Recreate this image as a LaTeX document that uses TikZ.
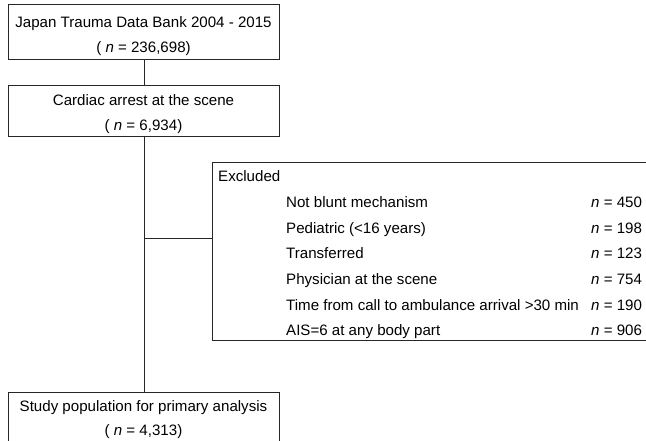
\documentclass[tikz,border=0pt]{standalone}
\usepackage{fontspec}
\setmainfont{Liberation Sans}
\begin{document}
\begin{tikzpicture}[x=1pt,y=-1pt,
  box/.style={draw=black!85,line width=0.9pt,inner sep=0pt,anchor=north west},
  txt/.style={anchor=base,inner sep=0pt,font=\fontsize{15.1}{17}\selectfont},
  txtl/.style={anchor=base west,inner sep=0pt,font=\fontsize{15.1}{17}\selectfont},
  link/.style={draw=black!85,line width=0.9pt}]
\clip (0,0) rectangle (646,440);
\node[box,minimum width=271pt,minimum height=55pt] (b1) at (8,4) {};
\node[box,minimum width=271pt,minimum height=51pt] (b2) at (8,85) {};
\node[box,minimum width=271pt,minimum height=70pt] (b3) at (8,392) {};
\node[box,minimum width=460pt,minimum height=178pt] (ex) at (212,162) {};
\node[txt] (t1a) at (143.5,27.5) {Japan Trauma Data Bank 2004 - 2015};
\node[txt] (t1b) at (143.5,52.5) {( \textit{n} = 236,698)};
\node[txt] (t2a) at (143.5,105.5) {Cardiac arrest at the scene};
\node[txt] (t2b) at (143.5,130.5) {( \textit{n} = 6,934)};
\node[txt] (t3a) at (143.5,411.5) {Study population for primary analysis};
\node[txt] (t3b) at (143.5,435.5) {( \textit{n} = 4,313)};
\node[txtl] (e0) at (218,181.5) {Excluded};
\node[txtl] (e1) at (286,207.5) {Not blunt mechanism};
\node[txtl] (e2) at (286,233) {Pediatric (<16 years)};
\node[txtl] (e3) at (286,258.5) {Transferred};
\node[txtl] (e4) at (286,284.5) {Physician at the scene};
\node[txtl] (e5) at (286,310) {Time from call to ambulance arrival >30 min};
\node[txtl] (e6) at (286,335.5) {AIS=6 at any body part};
\node[txtl] (n1) at (591,207.5) {\textit{n} = 450};
\node[txtl] (n2) at (591,233) {\textit{n} = 198};
\node[txtl] (n3) at (591,258.5) {\textit{n} = 123};
\node[txtl] (n4) at (591,284.5) {\textit{n} = 754};
\node[txtl] (n5) at (591,310) {\textit{n} = 190};
\node[txtl] (n6) at (591,335.5) {\textit{n} = 906};
\coordinate (j) at (143.5,238);
\draw[link] (b1.south) -- (b2.north);
\draw[link] (b2.south) -- (b3.north);
\draw[link] (j) -- (ex.west |- j);
\end{tikzpicture}
\end{document}
